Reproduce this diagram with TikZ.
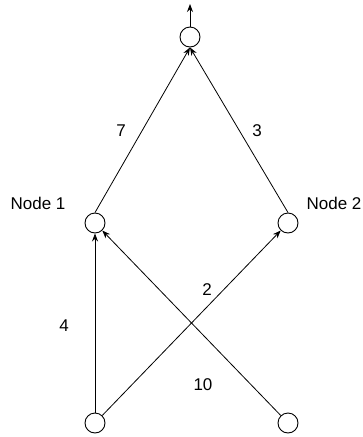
\documentclass[tikz,border=0pt]{standalone}
\usepackage{fontspec}
\setmainfont{Liberation Sans}
\usetikzlibrary{arrows.meta}
\begin{document}
\begin{tikzpicture}[x=1pt,y=-1pt,
  vert/.style={circle,draw,line width=0.9pt,minimum size=20pt,inner sep=0pt},
  edge/.style={line width=0.8pt,-{Stealth[length=8pt,width=6pt]}},
  lbl/.style={font=\fontsize{17}{17}\selectfont,inner sep=0pt}]
\useasboundingbox (0,0) rectangle (363,437);
\node[vert] (t) at (190,37) {};
\node[vert] (n1) at (95,223) {};
\node[vert] (n2) at (288,223) {};
\node[vert] (bl) at (95,423) {};
\node[vert] (br) at (288,423) {};
\coordinate (out) at (190,4);
\draw[edge] (t.north) -- (out);
\draw[edge] (n1.north) -- (t.south);
\draw[edge] (n2.north) -- (t.south);
\draw[edge] (bl.north) -- (n1.south);
\draw[edge] (bl) -- (n2);
\draw[edge] (br) -- (n1);
\node[lbl] (l7) at (121,131) {7};
\node[lbl] (l3) at (257,131) {3};
\node[lbl] (l4) at (64,326) {4};
\node[lbl] (l2) at (207,290) {2};
\node[lbl] (l10) at (203,385) {10};
\node[lbl] (ln1) at (38,203) {Node 1};
\node[lbl] (ln2) at (334,203) {Node 2};
\end{tikzpicture}
\end{document}
